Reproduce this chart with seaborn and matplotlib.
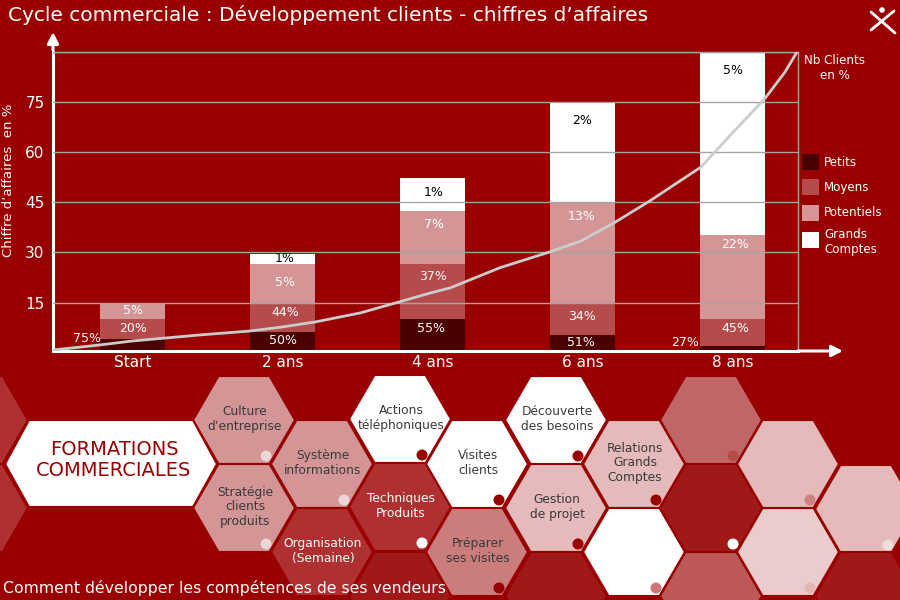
import numpy as np
import pandas as pd
import matplotlib
matplotlib.use('Agg')
import matplotlib.pyplot as plt
from matplotlib.patches import Polygon, Circle, Rectangle
import seaborn as sns

RED = '#990000'
DARK = '#A01818'

# top of each stacked segment
categories = ['Start', '2 ans', '4 ans', '6 ans', '8 ans']
petits = [4.1, 6.2, 10.1, 5.3, 2.1]
moyens = [10.1, 15.0, 26.5, 15.0, 10.1]
potentiels = [14.6, 26.5, 42.4, 45.0, 35.2]
grands_comptes = [14.6, 29.5, 52.3, 75.0, 90.0]

# customer curve, same axes as the bars
curve_x = [-0.53, -0.22, 0.0, 0.45, 0.79, 1.0, 1.22, 1.52, 1.78, 1.99, 2.12,
           2.45, 2.78, 2.99, 3.21, 3.45, 3.79, 4.0, 4.22, 4.35, 4.43]
curve_y = [0.8, 2.3, 3.5, 5.3, 6.5, 7.7, 9.2, 11.9, 15.2, 17.9, 19.4,
           25.4, 30.1, 33.4, 38.8, 45.4, 55.5, 65.7, 76.2, 83.9, 89.9]

y_ticks = [15, 30, 45, 60, 75, 90]
y_tick_labels = ['15', '30', '45', '60', '75', '']

segment_names = ['Petits', 'Moyens', 'Potentiels', 'Grands Comptes']
segment_colors = ['#4A0000', '#B54B4B', '#D39595', '#FFFFFF']

petits_labels = ['75%', '50%', '55%', '51%', '27%']
moyens_labels = ['20%', '44%', '37%', '34%', '45%']
potentiels_labels = ['5%', '5%', '7%', '13%', '22%']
grands_labels = ['', '1%', '1%', '2%', '5%']

# hexagons: (centre x, centre y, fill, text, text colour, dot colour)
hexagons = [
    (-23, 420, '#AE3030', '', None, None),
    (-23, 508, '#AE3030', '', None, None),
    (244, 420, '#D39595', 'Culture\nd’entreprise', '#3A3A3A', '#EBD5D5'),
    (244, 508, '#D39595', 'Stratégie\nclients\nproduits', '#3A3A3A', '#EBD5D5'),
    (322, 464, '#D39595', 'Système\ninformations', '#3A3A3A', '#EBD5D5'),
    (322, 552, '#AE3030', 'Organisation\n(Semaine)', '#FFFFFF', None),
    (400, 419, '#FFFFFF', 'Actions\ntéléphoniques', '#3A3A3A', RED),
    (400, 507, '#AE3030', 'Techniques\nProduits', '#FFFFFF', '#FFFFFF'),
    (400, 596, DARK, '', None, None),
    (477, 464, '#FFFFFF', 'Visites\nclients', '#3A3A3A', RED),
    (477, 552, '#CB7C7C', 'Préparer\nses visites', '#3A3A3A', RED),
    (556, 420, '#FFFFFF', 'Découverte\ndes besoins', '#3A3A3A', RED),
    (556, 508, '#E4BABA', 'Gestion\nde projet', '#3A3A3A', RED),
    (556, 596, DARK, '', None, None),
    (634, 464, '#E4BABA', 'Relations\nGrands\nComptes', '#3A3A3A', RED),
    (634, 552, '#FFFFFF', '', None, '#CF7777'),
    (711, 420, '#C06666', '', None, '#B54B4B'),
    (711, 508, DARK, '', None, '#FFFFFF'),
    (711, 596, '#BC5858', '', None, None),
    (788, 464, '#E4BABA', '', None, '#CF8080'),
    (788, 552, '#EACCCC', '', None, '#E4B5B5'),
    (866, 509, '#E4BABA', '', None, '#EFDDDD'),
    (866, 596, DARK, '', None, None),
]

sns.set_theme(style='white')
plt.rcParams['font.family'] = ['DejaVu Sans']

fig = plt.figure(figsize=(9, 6), dpi=100, facecolor=RED)

# chart axes, pixel box 53..798 x 51.7..351
ax = fig.add_axes([53 / 900, (600 - 351) / 600, 745 / 900, 299.3 / 600], zorder=1)
ax.set_facecolor(RED)

df = pd.DataFrame({'categorie': categories * 4,
                   'segment': np.repeat(segment_names, 5),
                   'valeur': petits + moyens + potentiels + grands_comptes})

# tallest first so the shorter segments sit on top
sns.barplot(data=df, x='categorie', y='valeur', hue='segment',
            hue_order=segment_names[::-1], palette=segment_colors[::-1],
            dodge=False, width=0.433, saturation=1, linewidth=0, legend=False, ax=ax)
sns.lineplot(x=curve_x, y=curve_y, color='#CCCCCC', linewidth=2, sort=False,
             estimator=None, zorder=3, ax=ax)

ax.set_xlim(-0.53, 4.437)
ax.set_ylim(0.5, 90)
ax.set_yticks(y_ticks)
ax.set_yticklabels(y_tick_labels)
ax.set_xlabel('')
ax.set_ylabel('Chiffre d’affaires  en %', color='white', fontsize=9.5)
ax.yaxis.set_label_coords(-0.051, 0.57)
ax.tick_params(axis='both', length=0, colors='white', labelsize=11)
ax.tick_params(axis='y', pad=6)
ax.tick_params(axis='x', pad=3)
ax.set_axisbelow(False)
ax.yaxis.grid(True, color='#A9A2A2', linewidth=1)
ax.xaxis.grid(False)
for side in ['top', 'right']:
    ax.spines[side].set_color('#A9A2A2')
    ax.spines[side].set_linewidth(1)
for side in ['left', 'bottom']:
    ax.spines[side].set_color('white')
    ax.spines[side].set_linewidth(2.2)

# everything else lives in a pixel-coordinate overlay
deco = fig.add_axes([0, 0, 1, 1], zorder=5)
deco.set_xlim(0, 900)
deco.set_ylim(600, 0)
deco.axis('off')
deco.patch.set_alpha(0)

for (x, y, tail) in [(53, 32, (53, 50)), (843, 351, (798, 351))]:
    deco.annotate('', xy=(x, y), xytext=tail,
                  arrowprops=dict(arrowstyle='-|>,head_width=0.28,head_length=0.55',
                                  color='white', lw=2.2, shrinkA=0, shrinkB=0))

deco.text(8, 15, 'Cycle commerciale : Développement clients - chiffres d’affaires',
          color='white', fontsize=14.5, va='center', ha='left')

# logo
deco.plot([871, 895], [12, 33], color='white', lw=2, solid_capstyle='round')
deco.plot([894, 871], [11, 30], color='white', lw=2, solid_capstyle='round')
deco.add_patch(Circle((882, 10), 2.8, color='white', lw=0))

# value labels on the bars
bar_px = [132.5, 283, 431.5, 581, 733]
label_rows = [
    (petits_labels, [(87, 338), (283, 341), (431.5, 328), (581, 342), (685, 343)], 'white'),
    (moyens_labels, [(133, 329), (285, 313), (433, 277), (582, 316), (735, 328)], 'white'),
    (potentiels_labels, [(133, 311), (285, 283), (434, 225), (582, 217), (735, 245)], 'white'),
    (grands_labels, [(0, 0), (285, 259), (434, 192), (582, 121), (733, 71)], 'black'),
]
for labels, places, col in label_rows:
    for lab, (px, py) in zip(labels, places):
        if lab:
            deco.text(px, py, lab, color=col, fontsize=9, ha='center', va='center')

# legend, placed by hand like the original
legend_y = [154, 179, 205, 232]
legend_text = ['Petits', 'Moyens', 'Potentiels', 'Grands\nComptes']
legend_text_y = [163, 187, 213, 242]
for y, name, ty, col in zip(legend_y, legend_text, legend_text_y, segment_colors):
    deco.add_patch(Rectangle((802, y), 17, 16, color=col, lw=0))
    deco.text(824, ty, name, color='white', fontsize=8.6, va='center', ha='left', linespacing=1.1)
deco.text(835, 68, 'Nb Clients\nen %', color='white', fontsize=8.6, va='center', ha='center', linespacing=1.15)

# hexagon band
HX, HY, HS = 51, 44, 25.5
for x, y, fill, txt, tcol, dot in hexagons:
    pts = [(x - HX, y), (x - HS, y - HY), (x + HS, y - HY),
           (x + HX, y), (x + HS, y + HY), (x - HS, y + HY)]
    deco.add_patch(Polygon(pts, closed=True, facecolor=fill, edgecolor=RED, lw=1.5))
    if dot:
        deco.add_patch(Circle((x + 22, y + 36), 5.5, color=dot, lw=0))
    if txt:
        deco.text(x + 1, y - 1, txt, color=tcol, fontsize=8.8, ha='center', va='center', linespacing=1.12)

deco.add_patch(Polygon([(5, 464), (29, 420), (193, 420), (217, 464), (193, 507), (29, 507)],
                       closed=True, facecolor='white', edgecolor=RED, lw=1.5))
deco.text(114, 460, 'FORMATIONS\nCOMMERCIALES', color=RED, fontsize=14, ha='center', va='center', linespacing=1.1)

deco.text(3, 588, 'Comment développer les compétences de ses vendeurs', color='white',
          fontsize=11.3, ha='left', va='center')

fig.savefig('out.png', dpi=100, facecolor=RED)
